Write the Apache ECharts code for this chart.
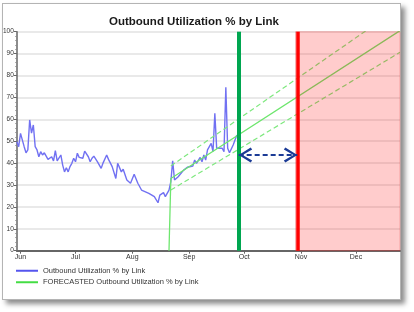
<!DOCTYPE html>
<html><head><meta charset="utf-8">
<script src="https://cdn.jsdelivr.net/npm/echarts@6/dist/echarts.min.js"></script>
<style>
html,body{margin:0;padding:0;background:#fff;width:414px;height:312px;overflow:hidden}
#frame{position:absolute;left:2px;top:3px;width:397px;height:295px;border:1px solid #b4b4b4;background:#fff;box-shadow:4px 4px 5px rgba(0,0,0,0.45)}
#chart{position:absolute;left:0;top:0;width:414px;height:312px}
</style></head>
<body>
<div id="frame"></div>
<div id="chart"></div>
<script>
// ---- data ----
const titleText = 'Outbound Utilization % by Link';
const seriesName = 'Outbound Utilization % by Link';
const forecastName = 'FORECASTED Outbound Utilization % by Link';
const monthNames = ['Jan','Feb','Mar','Apr','May','Jun','Jul','Aug','Sep','Oct','Nov','Dec'];
const dates = ['2011-05-30','2011-05-31','2011-06-01','2011-06-03','2011-06-04','2011-06-05','2011-06-06','2011-06-07','2011-06-08','2011-06-09','2011-06-10','2011-06-11','2011-06-12','2011-06-13','2011-06-14','2011-06-15','2011-06-16','2011-06-18','2011-06-19','2011-06-20','2011-06-21','2011-06-22','2011-06-23','2011-06-24','2011-06-25','2011-06-26','2011-06-27','2011-06-28','2011-06-29','2011-06-30','2011-07-01','2011-07-02','2011-07-03','2011-07-04','2011-07-05','2011-07-06','2011-07-08','2011-07-09','2011-07-10','2011-07-11','2011-07-12','2011-07-13','2011-07-15','2011-07-16','2011-07-18','2011-07-19','2011-07-21','2011-07-23','2011-07-24','2011-07-26','2011-07-27','2011-07-29','2011-07-31','2011-08-02','2011-08-04','2011-08-06','2011-08-07','2011-08-10','2011-08-13','2011-08-15','2011-08-16','2011-08-18','2011-08-19','2011-08-21','2011-08-22','2011-08-23','2011-08-24','2011-08-26','2011-08-27','2011-08-29','2011-08-31','2011-09-01','2011-09-03','2011-09-04','2011-09-05','2011-09-07','2011-09-08','2011-09-09','2011-09-10','2011-09-11','2011-09-12','2011-09-13','2011-09-14','2011-09-15','2011-09-16','2011-09-17','2011-09-19','2011-09-20','2011-09-21','2011-09-22','2011-09-23','2011-09-25','2011-09-27'];
const values = [49.8,47.5,53.6,47.5,44.7,46,59.7,53.7,57.4,47.5,46,42.9,45.2,43.7,44.7,43.2,41.7,42.9,41,45.7,41,41.4,43.7,39.1,36,37.9,36,38.4,39.9,42.2,40.6,44.5,42.6,43.2,42.2,45.5,42.9,40.6,42.2,43.2,42.3,40.6,37.6,40,43.7,41.7,38.4,33,39.9,36,37.2,32.3,30.8,34.9,30.8,27.7,27.7,26.2,24.7,21.9,25.4,26.5,24.7,27.7,31.5,41,32.3,33.8,33,36.8,38.1,37.6,38.7,41.4,39.9,42.6,40.6,43.7,41.4,46,45.2,49,45.2,62.7,46.8,46,46.8,45.2,74.6,46.8,44.7,48.3,52.8];
const forecastDates = ['2011-08-21','2011-08-22','2011-12-25'];
const forecastValues = [0, 33, 100.5];
const upperDates = ['2011-08-22','2011-12-25'];
const upperValues = [38.7, 111.2];
const lowerDates = ['2011-08-22','2011-12-25'];
const lowerValues = [27.7, 90.6];
const axisStart = '2011-05-30';
const axisEnd = '2011-12-25';
const nowDate = '2011-09-28';
const limitDate = '2011-10-30';
const shadeStart = '2011-10-29';
const arrowValue = 43.7;
const yMin = 0, yMax = 100, yStep = 10;

const zip = (a, b) => a.map((d, i) => [d, b[i]]);
const font = 'Liberation Sans';
const chart = echarts.init(document.getElementById('chart'), null, {renderer: 'canvas'});
// open chevron whose tip sits at the symbol centre (invisible sliver extends the box upward)
const chevron = 'path://M7.5,-13.5 L7.55,-13.5 L7.5,-13.45 Z M0,12 L7.5,0 L15,12 L13,13.5 L7.5,4 L2,13.5 Z';
chart.setOption({
  animation: false,
  backgroundColor: 'transparent',
  title: {
    text: titleText, left: 104, top: 11,
    textStyle: {fontFamily: font, fontSize: 11.5, fontWeight: 'bold', color: '#1a1a1a'}
  },
  legend: {
    data: [
      {name: seriesName, icon: 'rect'},
      {name: forecastName, icon: 'rect'}
    ],
    orient: 'vertical', left: 16, top: 266, padding: 0, itemWidth: 22, itemHeight: 2, itemGap: 2,
    textStyle: {fontFamily: font, fontSize: 7.5, color: '#333', lineHeight: 9.5}
  },
  grid: {left: 16, right: 14, top: 31.7, bottom: 61.3, containLabel: false},
  xAxis: {
    type: 'time', min: axisStart, max: axisEnd,
    splitNumber: 7, minInterval: 28 * 86400000,
    axisLine: {lineStyle: {color: '#666', width: 2}},
    axisTick: {length: 3, lineStyle: {color: '#666'}},
    axisLabel: {
      fontFamily: font, fontSize: 7, color: '#333', margin: 3,
      formatter: v => monthNames[new Date(v).getMonth()]
    },
    splitLine: {show: false}
  },
  yAxis: {
    type: 'value', min: yMin, max: yMax, interval: yStep,
    axisLine: {show: true, lineStyle: {color: '#666', width: 1.5}},
    axisTick: {show: true, length: 3, lineStyle: {color: '#666'}},
    minorTick: {show: true, splitNumber: 5, length: 1.5, lineStyle: {color: '#888'}},
    axisLabel: {fontFamily: font, fontSize: 6.5, color: '#333', margin: 3},
    splitLine: {lineStyle: {color: '#e2e2e2', width: 1.6}}
  },
  series: [
    {
      name: seriesName, type: 'line', data: zip(dates, values), showSymbol: false,
      lineStyle: {color: '#7171f2', width: 1.4}, itemStyle: {color: '#5555ee'}, z: 3
    },
    {
      name: forecastName, type: 'line', data: zip(forecastDates, forecastValues), showSymbol: false,
      lineStyle: {color: '#6ee66e', width: 1.3}, itemStyle: {color: '#44dd44'}, z: 3
    },
    {
      name: 'upper', type: 'line', data: zip(upperDates, upperValues), showSymbol: false,
      lineStyle: {color: '#7ee87e', width: 1.2, type: [5, 3]}, z: 3
    },
    {
      name: 'lower', type: 'line', data: zip(lowerDates, lowerValues), showSymbol: false,
      lineStyle: {color: '#7ee87e', width: 1.2, type: [5, 3]}, z: 3,
      markArea: {
        silent: true, z: 10,
        itemStyle: {color: 'rgba(255,0,0,0.2)', borderColor: 'rgba(230,60,60,0.3)', borderWidth: 1},
        data: [[{xAxis: shadeStart}, {xAxis: axisEnd}]]
      }
    },
    {
      name: 'markers', type: 'line', data: [], z: 12,
      markLine: {
        silent: true, symbol: 'none', label: {show: false}, z: 12,
        data: [
          {xAxis: nowDate, lineStyle: {color: '#00a650', width: 4, type: 'solid'}},
          {xAxis: limitDate, lineStyle: {color: '#ff0000', width: 3.5, type: 'solid'}},
          [
            {coord: [nowDate, arrowValue], symbol: chevron, symbolSize: [15, 27],
             lineStyle: {color: '#1b3b96', width: 2, type: [5, 3]}},
            {coord: [limitDate, arrowValue], symbol: chevron, symbolSize: [15, 27]}
          ]
        ]
      }
    }
  ]
});
</script>
</body></html>
